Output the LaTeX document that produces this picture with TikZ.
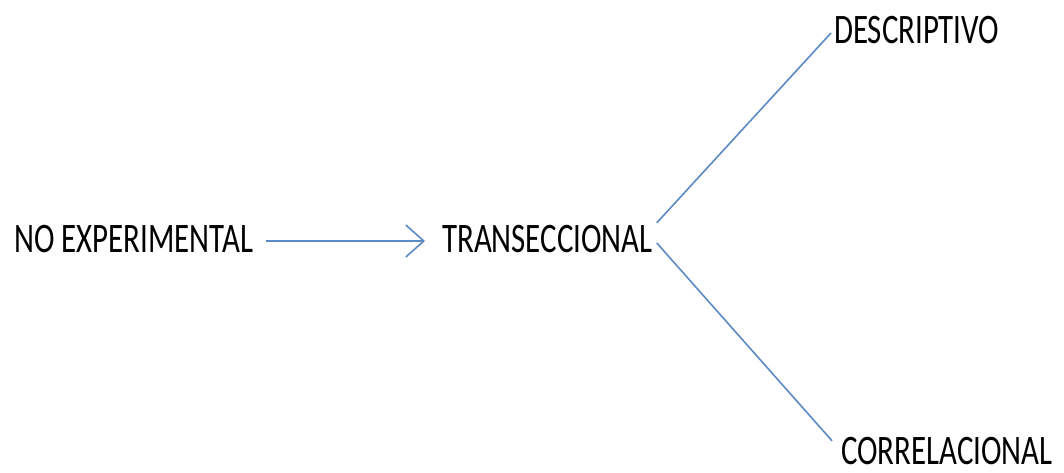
\documentclass[tikz,border=0pt]{standalone}
\usepackage{fontspec}
\setmainfont{Carlito}
\usetikzlibrary{arrows.meta,calc}
\newcommand\sqz[1]{\scalebox{0.735}[1]{#1}}
\tikzset{
  lbl/.style={anchor=base west, inner sep=0pt, text height=27pt, text depth=5pt,
    font=\fontsize{42}{50}\selectfont, text=black},
  conn/.style={draw={rgb,255:red,92;green,138;blue,196}, line width=1.6pt},
  arr/.style={conn, -{Straight Barb[length=18pt,width=32pt,line width=1.6pt]}}
}
\begin{document}
\begin{tikzpicture}[x=1pt,y=1pt]
\useasboundingbox (0,0) rectangle (1064,472);
\node[lbl] (ne) at (14,220) {\sqz{NO EXPERIMENTAL}};
\node[lbl] (tr) at (442,220) {\sqz{TRANSECCIONAL}};
\node[lbl] (de) at (834,428) {\sqz{DESCRIPTIVO}};
\node[lbl] (co) at (841,8) {\sqz{CORRELACIONAL}};
\draw[arr, shorten <=13pt, shorten >=17pt] (ne.east) -- (tr.west);
\draw[conn] ($(tr.north east)+(4,2)$) -- ($(de.west)+(-3,0)$);
\draw[conn] ($(tr.east)+(4,-2)$) -- ($(co.north west)+(-9,-4)$);
\end{tikzpicture}
\end{document}
